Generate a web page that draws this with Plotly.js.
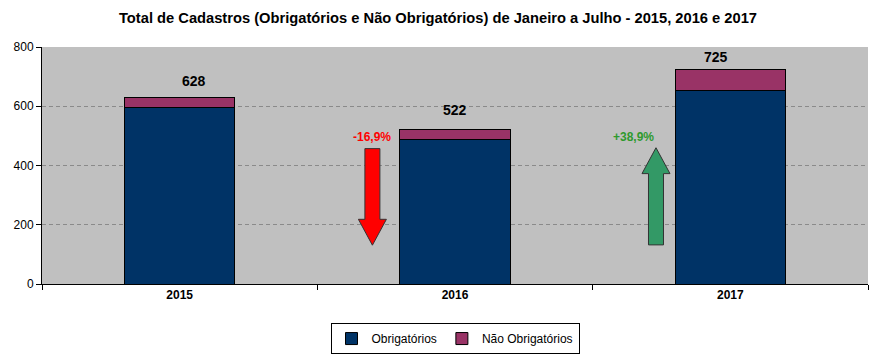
<!DOCTYPE html>
<html>
<head>
<meta charset="utf-8">
<script src="https://cdn.plot.ly/plotly-3.0.1.min.js"></script>
<style>html,body{margin:0;padding:0;background:#fff}#chart{width:876px;height:361px}</style>
</head>
<body>
<div id="chart"></div>
<script>
// ---- data ----
var years = ['2015', '2016', '2017'];
var obrigatorios = [596, 487, 652];
var naoObrigatorios = [32, 35, 73];
var totals = [628, 522, 725];
var totalLabels = ['628', '522', '725'];

// change arrows (between bars)
var arrowX = [0.70, 1.73];          // category-index position
var arrowFrom = [457, 132];         // value at tail
var arrowTo = [131, 460];           // value at tip
var arrowLabels = ['-16,9%', '+38,9%'];
var arrowLabelY = [497, 497];

// ---- styles ----
var FONT = 'Arial, "Liberation Sans", sans-serif';
var arrowColors = ['#FF0000', '#339966'];
var labelColors = ['#FF0000', '#2E9A2E'];
var labelShift = [17, 19, 12];

var traces = [
  {type: 'bar', name: 'Obrigatórios', x: years, y: obrigatorios,
   marker: {color: '#003366', line: {color: '#000000', width: 1}}, hoverinfo: 'skip'},
  {type: 'bar', name: 'Não Obrigatórios', x: years, y: naoObrigatorios,
   marker: {color: '#993366', line: {color: '#000000', width: 1}}, hoverinfo: 'skip'}
];

var plotW = 876 - 42 - 8, plotH = 361 - 47 - 76, yMax = 800;
var shaftHalf = 7.5 / plotW, headHalf = 14 / plotW, headLen = 26 * yMax / plotH;

var shapes = arrowX.map(function (xc, i) {
  var px = (xc + 0.5) / years.length;
  var y0 = arrowFrom[i], y1 = arrowTo[i];
  var dir = y1 > y0 ? 1 : -1;
  var yb = y1 - dir * headLen;
  var d = 'M' + (px - shaftHalf) + ',' + y0 +
          ' L' + (px - shaftHalf) + ',' + yb +
          ' L' + (px - headHalf) + ',' + yb +
          ' L' + px + ',' + y1 +
          ' L' + (px + headHalf) + ',' + yb +
          ' L' + (px + shaftHalf) + ',' + yb +
          ' L' + (px + shaftHalf) + ',' + y0 + ' Z';
  return {type: 'path', xref: 'paper', yref: 'y', path: d,
          fillcolor: arrowColors[i], line: {color: '#333333', width: 1}, layer: 'above'};
});

var annotations = years.map(function (yr, i) {
  return {x: (i + 0.5) / years.length, xref: 'paper', y: totals[i], yref: 'y',
          text: '<b>' + totalLabels[i] + '</b>',
          showarrow: false, yanchor: 'middle', yshift: labelShift[i],
          font: {family: FONT, size: 14, color: '#000000'}};
}).concat(arrowX.map(function (xc, i) {
  return {x: (xc + 0.5) / years.length, xref: 'paper', y: arrowLabelY[i], yref: 'y',
          text: '<b>' + arrowLabels[i] + '</b>', showarrow: false, yanchor: 'middle',
          font: {family: FONT, size: 12, color: labelColors[i]}};
}));

var layout = {
  width: 876, height: 361,
  margin: {l: 42, r: 8, t: 47, b: 76, pad: 0},
  paper_bgcolor: '#FFFFFF', plot_bgcolor: '#C0C0C0',
  font: {family: FONT, size: 12, color: '#000000'},
  title: {text: '<b>Total de Cadastros (Obrigatórios e Não Obrigatórios) de Janeiro a Julho - 2015, 2016 e 2017</b>',
          x: 0.5, xref: 'container', xanchor: 'center', y: 1 - 18 / 361, yref: 'container', yanchor: 'middle',
          font: {family: FONT, size: 14.7, color: '#000000'}},
  barmode: 'stack', bargap: 0.6,
  showlegend: true,
  legend: {orientation: 'h', x: 0.5, xanchor: 'center', y: -0.225, yanchor: 'middle',
           bordercolor: '#000000', borderwidth: 1, bgcolor: '#FFFFFF',
           font: {family: FONT, size: 12, color: '#000000'}, traceorder: 'normal',
           itemwidth: 30, tracegroupgap: 0},
  xaxis: {type: 'category', range: [-0.5, years.length - 0.5], autorange: false,
          showline: true, linecolor: '#000000', linewidth: 1,
          ticks: 'outside', tickson: 'boundaries', ticklen: 5, tickcolor: '#000000',
          showgrid: false, tickangle: 0,
          tickfont: {family: FONT, size: 12, color: '#000000', weight: 'bold'},
          fixedrange: true},
  yaxis: {range: [0, 800], autorange: false, dtick: 200, showline: true, linecolor: '#000000', linewidth: 1,
          ticks: 'outside', ticklen: 5, tickcolor: '#000000',
          showgrid: true, gridcolor: '#8A8A8A', griddash: '4px,3px', gridwidth: 1,
          zeroline: false, tickfont: {family: FONT, size: 12, color: '#000000'}, fixedrange: true},
  shapes: shapes,
  annotations: annotations
};

Plotly.newPlot('chart', traces, layout, {displayModeBar: false, staticPlot: true});
</script>
</body>
</html>
